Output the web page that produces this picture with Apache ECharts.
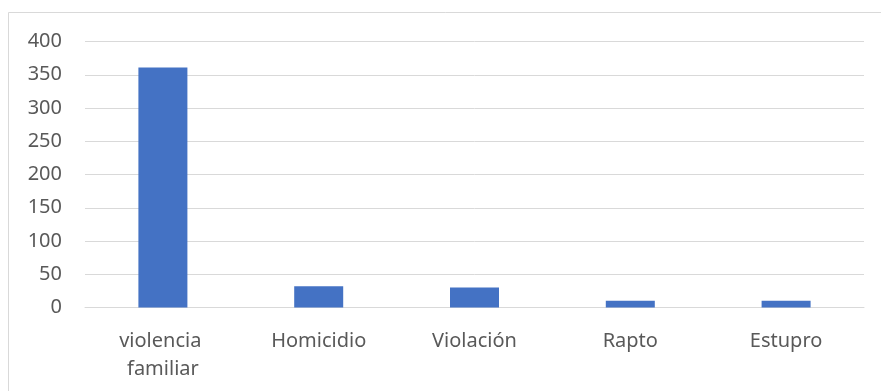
<!DOCTYPE html>
<html>
<head>
<meta charset="utf-8">
<script src="https://cdn.jsdelivr.net/npm/echarts@6/dist/echarts.min.js"></script>
<style>html,body{margin:0;padding:0;background:#fff;}#c{width:881px;height:391px;}</style>
</head>
<body>
<div id="c"></div>
<script>
const categories = ["violencia familiar", "Homicidio", "Violación", "Rapto", "Estupro"];
const values = [361, 32, 30, 10, 10];
const yTicks = { min: 0, max: 400, interval: 50 };

const chart = echarts.init(document.getElementById('c'), null, { renderer: 'canvas' });
chart.setOption({
  animation: false,
  backgroundColor: '#ffffff',
  graphic: [{
    type: 'rect',
    shape: { x: 8.5, y: 12.5, width: 1000, height: 1000 },
    style: { fill: 'none', stroke: '#d9d9d9', lineWidth: 1 },
    silent: true, z: -1
  }],
  grid: { left: 85, right: 17, top: 41.5, bottom: 83.5, containLabel: false },
  xAxis: {
    type: 'category',
    data: categories,
    axisLine: { show: true, lineStyle: { color: '#d9d9d9', width: 1 } },
    axisTick: { show: false },
    axisLabel: {
      color: '#595959', fontFamily: 'Noto Sans', fontSize: 20, margin: 20,
      lineHeight: 28, width: 140, overflow: 'break', interval: 0
    }
  },
  yAxis: {
    type: 'value',
    min: yTicks.min, max: yTicks.max, interval: yTicks.interval,
    axisLine: { show: false },
    axisTick: { show: false },
    axisLabel: { color: '#595959', fontFamily: 'Noto Sans', fontSize: 20, margin: 23 },
    splitLine: { lineStyle: { color: '#d9d9d9', width: 1 } }
  },
  series: [{
    type: 'bar',
    data: values,
    barWidth: 49,
    itemStyle: { color: '#4472c4' }
  }]
});
</script>
</body>
</html>
